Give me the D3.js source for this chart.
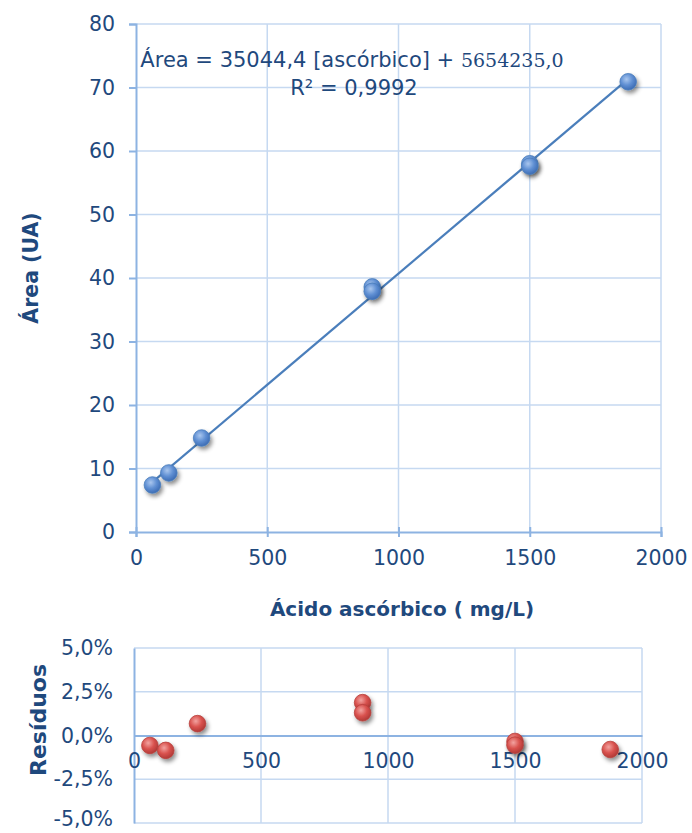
<!DOCTYPE html>
<html><head><meta charset="utf-8">
<script src="https://cdn.jsdelivr.net/npm/d3@7"></script>
<style>
html,body{margin:0;padding:0;background:#fff;}
svg{display:block;font-family:"DejaVu Sans","Liberation Sans",Arial,sans-serif;}
</style></head>
<body>
<svg id="c" width="692" height="833"></svg>
<script>
// ---- data ----
const concentrations = [62.5, 125, 250, 900, 900, 1500, 1500, 1875];
const areas = [7.4, 9.3, 14.8, 38.6, 37.9, 58.0, 57.6, 70.9];
const residuals = [-0.57, -0.85, 0.68, 1.88, 1.3, -0.34, -0.55, -0.8];
const slope = 35044.4e-6, intercept = 5.654235;
const xTicks = [0, 500, 1000, 1500, 2000];
const yTicks = [0, 10, 20, 30, 40, 50, 60, 70, 80];
const rTicks = [5, 2.5, 0, -2.5, -5];
const rTickLabels = ["5,0%", "2,5%", "0,0%", "-2,5%", "-5,0%"];

const FONT = "DejaVu Sans, Liberation Sans, Arial, sans-serif";
const txt = "#1f497d", grid = "#c6d9f1", axisC = "#8db3e2";
const svg = d3.select("#c");
const defs = svg.append("defs");

function grad(id, light, mid, dark){
  const g = defs.append("radialGradient").attr("id", id)
    .attr("cx", "40%").attr("cy", "35%").attr("r", "65%");
  g.append("stop").attr("offset", "0%").attr("stop-color", light);
  g.append("stop").attr("offset", "55%").attr("stop-color", mid);
  g.append("stop").attr("offset", "100%").attr("stop-color", dark);
}
grad("gb", "#a9c6ee", "#5f8fd3", "#3e6db5");
grad("gr", "#f2a3a0", "#d9524e", "#b23a37");
const f = defs.append("filter").attr("id", "sh").attr("x", "-50%").attr("y", "-50%").attr("width", "200%").attr("height", "200%");
f.append("feDropShadow").attr("dx", 2).attr("dy", 3).attr("stdDeviation", 2).attr("flood-color", "#000").attr("flood-opacity", 0.45);

// ---- main chart ----
const x = d3.scaleLinear().domain([0, 2000]).range([136, 661]);
const y = d3.scaleLinear().domain([0, 80]).range([532, 24]);

const gMain = svg.append("g");
gMain.selectAll(".vg").data(xTicks.slice(1)).join("line")
  .attr("x1", d => x(d)).attr("x2", d => x(d)).attr("y1", y(80)).attr("y2", y(0))
  .attr("stroke", grid).attr("stroke-width", 1.5);
gMain.selectAll(".hg").data(yTicks.slice(1)).join("line")
  .attr("x1", x(0)).attr("x2", x(2000)).attr("y1", d => y(d)).attr("y2", d => y(d))
  .attr("stroke", grid).attr("stroke-width", 1.5);

const xAxis = gMain.append("g").attr("transform", `translate(0,${y(0)})`)
  .call(d3.axisBottom(x).tickValues(xTicks).tickSize(5).tickPadding(13).tickFormat(d3.format("d")));
const yAxis = gMain.append("g").attr("transform", `translate(${x(0)},0)`)
  .call(d3.axisLeft(y).tickValues(yTicks).tickSize(7).tickPadding(14).tickFormat(d3.format("d")));
[xAxis, yAxis].forEach(a => {
  a.select(".domain").attr("stroke", axisC).attr("stroke-width", 2);
  a.selectAll(".tick line").attr("stroke", axisC).attr("stroke-width", 2);
  a.selectAll("text").attr("fill", txt).attr("font-size", 20.5).attr("font-family", FONT);
});
xAxis.selectAll(".tick line").attr("y1", -5);

// regression line
const lineX = [concentrations[0], concentrations[concentrations.length - 1]];
gMain.append("path")
  .datum(lineX.map(c => [c, slope * c + intercept]))
  .attr("d", d3.line().x(d => x(d[0])).y(d => y(d[1])))
  .attr("stroke", "#4a7ebb").attr("stroke-width", 2.2).attr("fill", "none");

gMain.selectAll(".pt").data(concentrations.map((c, i) => [c, areas[i]])).join("circle")
  .attr("cx", d => x(d[0])).attr("cy", d => y(d[1])).attr("r", 8.3)
  .attr("fill", "url(#gb)").attr("stroke", "#4a7ebb").attr("stroke-width", 0.8)
  .attr("filter", "url(#sh)");

// equation
const eq = svg.append("text").attr("x", 352).attr("y", 67).attr("text-anchor", "middle")
  .attr("fill", txt).attr("font-size", 21);
eq.append("tspan").text("Área = 35044,4 [ascórbico] + ");
eq.append("tspan").attr("font-family", "DejaVu Serif, serif").attr("font-size", 19).text("5654235,0");
svg.append("text").attr("x", 354).attr("y", 95).attr("text-anchor", "middle")
  .attr("fill", txt).attr("font-size", 21).text("R² = 0,9992");

// axis titles
svg.append("text").attr("x", 402).attr("y", 616).attr("text-anchor", "middle")
  .attr("fill", txt).attr("font-size", 20).attr("font-weight", "bold").text("Ácido ascórbico ( mg/L)");
svg.append("text").attr("transform", "translate(38,268) rotate(-90)").attr("text-anchor", "middle")
  .attr("fill", txt).attr("font-size", 20.5).attr("font-weight", "bold").text("Área (UA)");

// ---- residual chart ----
const xr = d3.scaleLinear().domain([0, 2000]).range([134, 642]);
const yr = d3.scaleLinear().domain([-5, 5]).range([823, 648]);
const gR = svg.append("g");
gR.selectAll(".rvg").data(xTicks.slice(1)).join("line")
  .attr("x1", d => xr(d)).attr("x2", d => xr(d)).attr("y1", yr(5)).attr("y2", yr(-5))
  .attr("stroke", grid).attr("stroke-width", 1.5);
gR.selectAll(".rhg").data(rTicks.filter(d => d !== 0)).join("line")
  .attr("x1", xr(0)).attr("x2", xr(2000)).attr("y1", d => yr(d)).attr("y2", d => yr(d))
  .attr("stroke", grid).attr("stroke-width", 1.5);
const ryAxis = gR.append("g").attr("transform", `translate(${xr(0)},0)`)
  .call(d3.axisLeft(yr).tickValues(rTicks).tickSize(0).tickPadding(21).tickFormat((d, i) => rTickLabels[i]));
ryAxis.select(".domain").attr("stroke", axisC).attr("stroke-width", 2);
ryAxis.selectAll("text").attr("fill", txt).attr("font-size", 20.5).attr("font-family", FONT);
ryAxis.selectAll(".tick").filter(d => d === -5).select("text").attr("dy", "0.1em");
const rxAxis = gR.append("g").attr("transform", `translate(0,${yr(0)})`)
  .call(d3.axisBottom(xr).tickValues(xTicks).tickSize(0).tickPadding(18).tickFormat(d3.format("d")));
rxAxis.select(".domain").attr("stroke", axisC).attr("stroke-width", 2);
rxAxis.selectAll("text").attr("fill", txt).attr("font-size", 20.5).attr("font-family", FONT);

gR.selectAll(".rp").data(concentrations.map((c, i) => [c, residuals[i]])).join("circle")
  .attr("cx", d => xr(d[0])).attr("cy", d => yr(d[1])).attr("r", 8.3)
  .attr("fill", "url(#gr)").attr("stroke", "#b8403c").attr("stroke-width", 0.8)
  .attr("filter", "url(#sh)");

svg.append("text").attr("transform", "translate(46,720) rotate(-90)").attr("text-anchor", "middle")
  .attr("fill", txt).attr("font-size", 22).attr("font-weight", "bold").text("Resíduos");
</script>
</body></html>
